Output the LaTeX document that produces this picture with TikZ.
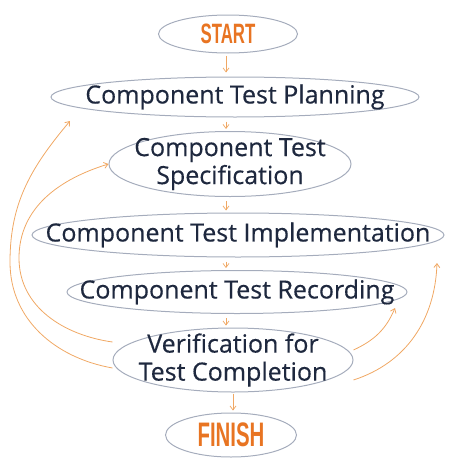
\documentclass[tikz,border=0pt]{standalone}
\usepackage{fontspec}
\setmainfont{Open Sans}
\newfontfamily\stagefont[FakeBold=0.4]{Open Sans}
\newfontfamily\endsfont[FakeStretch=0.6]{Liberation Sans}
\usetikzlibrary{shapes.geometric,arrows.meta}
\definecolor{stagenavy}{RGB}{30,40,62}
\definecolor{endorange}{RGB}{232,116,34}
\definecolor{loopline}{RGB}{240,168,100}
\definecolor{rim}{RGB}{165,172,188}
\begin{document}
\begin{tikzpicture}[x=1pt,y=-1pt,>={Straight Barb[length=4pt,width=6pt]},
		stage/.style={ellipse,draw=rim,line width=1pt,inner sep=-60pt,align=center,text=stagenavy,font={\stagefont\fontsize{25}{28}\selectfont}},
		ends/.style={ellipse,draw=rim,line width=1pt,inner sep=-30pt,text=endorange},
		flow/.style={->,loopline,line width=0.7pt},
		feedback/.style={->,loopline,line width=0.8pt}]
		\useasboundingbox (0,0) rectangle (474,474);
		\node[ends,minimum width=139,minimum height=38,font={\endsfont\bfseries\fontsize{28}{30}\selectfont}] (start) at (228,34) {START};
		\node[stage,minimum width=368,minimum height=40] (plan) at (235,97) {Component Test Planning};
		\node[stage,minimum width=242,minimum height=65] (spec) at (230,164) {Component Test\\Specification};
		\node[stage,minimum width=412,minimum height=44] (impl) at (238,235) {Component Test Implementation};
		\node[stage,minimum width=340,minimum height=43] (rec) at (237,292) {Component Test Recording};
		\node[stage,minimum width=240,minimum height=64] (verif) at (233,360) {Verification for\\Test Completion};
		\node[ends,minimum width=131,minimum height=44,font={\endsfont\bfseries\fontsize{34}{36}\selectfont}] (finish) at (231,435) {FINISH};
		% straight down the middle
		\coordinate (axis) at (226,0);
		\draw[flow,shorten <=2pt,shorten >=4pt] (start.south -| axis) -- (plan.north -| axis);
		\draw[flow,shorten <=4pt,shorten >=2pt] (plan.south -| axis) -- (spec.north -| axis);
		\draw[flow,shorten <=4pt,shorten >=2pt] (spec.south -| axis) -- (impl.north -| axis);
		\draw[flow,shorten <=4pt,shorten >=2pt] (impl.south -| axis) -- (rec.north -| axis);
		\draw[flow,shorten <=4pt,shorten >=2pt] (rec.south -| axis) -- (verif.north -| axis);
		\draw[flow,shorten <=1pt,shorten >=2pt] (verif.south) -- (verif.south |- finish.north);
		% going back
		\coordinate (tipA) at (70,121);
		\coordinate (tipC) at (395,308);
		\coordinate (tipD) at (437,263);
		\draw[feedback] ([yshift=-8pt]verif.west) to[out=170,in=-90] (10,262) to[out=90,in=230] (tipA);
		\draw[feedback] ([yshift=18pt]verif.west) to[out=172,in=-90] (19,258) to[out=90,in=197] (spec.west);
		\draw[feedback] ([yshift=10pt]verif.east) to[out=25,in=247] (tipC);
		\draw[feedback] ([yshift=-20pt]verif.east) to[out=18,in=-92] (tipD);
	\end{tikzpicture}
\end{document}
